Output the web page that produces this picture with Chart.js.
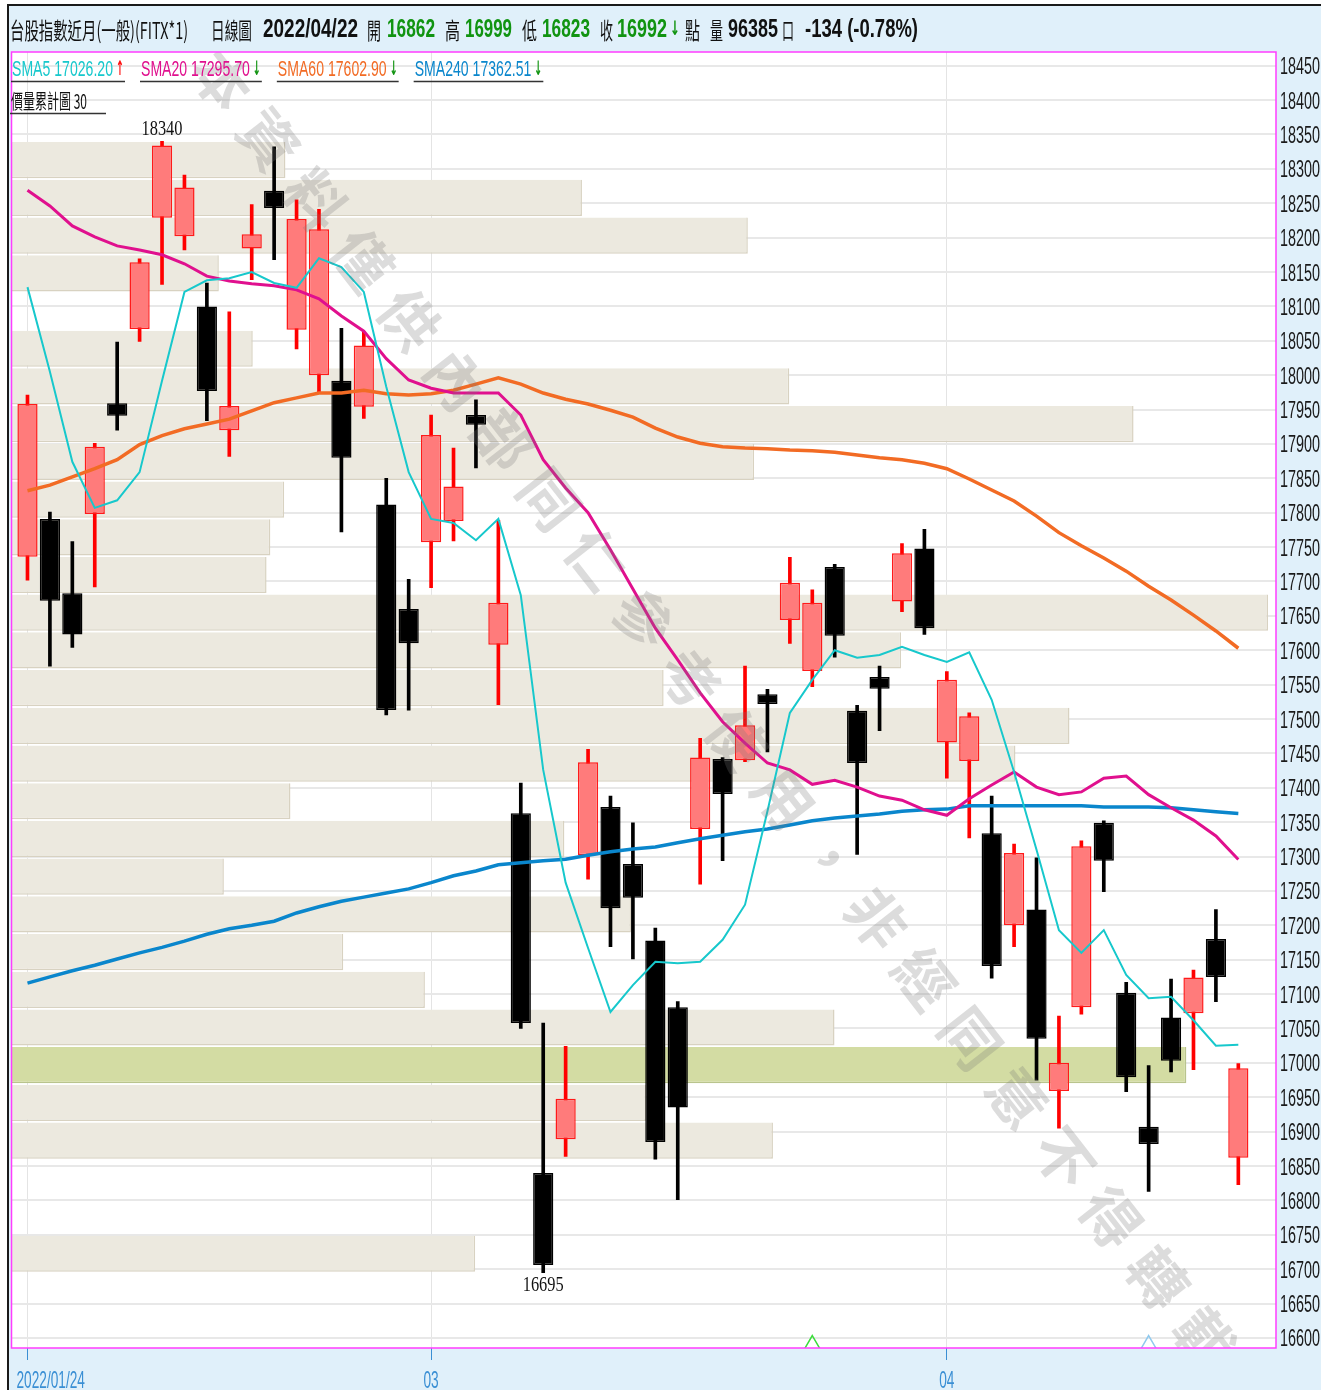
<!DOCTYPE html>
<html>
<head>
<meta charset="utf-8">
<script src="https://cdn.jsdelivr.net/npm/chart.js@4.4.0/dist/chart.umd.min.js"></script>
<style>
  html, body { margin: 0; padding: 0; background: #fff; }
  canvas { display: block; }
</style>
</head>
<body>
<canvas id="chart" width="1321" height="1390"></canvas>
<script>
// ---- data ----
const dates = [
  '2022/01/24','2022/01/25','2022/01/26',
  '2022/02/07','2022/02/08','2022/02/09','2022/02/10','2022/02/11',
  '2022/02/14','2022/02/15','2022/02/16','2022/02/17','2022/02/18',
  '2022/02/21','2022/02/22','2022/02/23','2022/02/24','2022/02/25',
  '2022/03/01','2022/03/02','2022/03/03','2022/03/04',
  '2022/03/07','2022/03/08','2022/03/09','2022/03/10','2022/03/11',
  '2022/03/14','2022/03/15','2022/03/16','2022/03/17','2022/03/18',
  '2022/03/21','2022/03/22','2022/03/23','2022/03/24','2022/03/25',
  '2022/03/28','2022/03/29','2022/03/30','2022/03/31',
  '2022/04/01','2022/04/06','2022/04/07','2022/04/08',
  '2022/04/11','2022/04/12','2022/04/13','2022/04/14','2022/04/15',
  '2022/04/18','2022/04/19','2022/04/20','2022/04/21','2022/04/22'
];
const openP  = [17736,17791,17683,17798,17959,18067,18229,18202,18100,17920,18184,18268,18066,18000,17992,17954,17812,17660,17757,17788,17942,17608,17363,16840,16889,17302,17372,17289,17178,17081,17340,17442,17440,17536,17644,17570,17721,17512,17561,17671,17748,17466,17439,17334,17200,17223,16959,17081,17349,17102,16907,17066,17072,17180,16862];
const highP  = [17971,17801,17758,17901,18048,18169,18340,18291,18134,18092,18248,18332,18255,18241,18068,18063,17850,17703,17942,17894,17964,17789,17407,17058,17024,17456,17388,17349,17196,17089,17472,17444,17577,17543,17735,17688,17725,17520,17577,17755,17776,17569,17509,17388,17318,17298,17068,17323,17352,17117,16996,17122,17135,17223,16999];
const lowP   = [17702,17577,17604,17692,17920,18049,18132,18182,17934,17882,18139,18168,18038,17976,17772,17937,17506,17513,17691,17759,17865,17521,17050,16695,16864,17267,17169,17151,16860,16801,17260,17294,17438,17452,17610,17547,17590,17303,17483,17656,17623,17414,17327,17123,17169,16975,16905,17071,17249,16958,16813,16987,16990,17089,16823];
const closeP = [17958,17672,17623,17896,17941,18164,18334,18273,17977,17955,18205,18243,18227,18212,17880,18043,17513,17610,17913,17838,17928,17669,17058,16706,16948,17437,17225,17240,16885,16935,17444,17391,17491,17522,17698,17669,17621,17436,17544,17741,17632,17557,17504,17141,17305,17035,17000,17315,17294,16979,16882,17003,17124,17125,16992];

const sma5   = [18128,18005,17874,17807,17818,17859,17992,18121,18138,18141,18150,18134,18127,18170,18157,18121,17983,17859,17791,17785,17760,17791,17680,17426,17262,17167,17074,17113,17147,17145,17147,17179,17230,17366,17509,17557,17600,17589,17593,17605,17593,17583,17597,17528,17423,17310,17193,17160,17193,17128,17094,17096,17062,17025,17026.20];
const sma20  = [18269,18246,18217,18201,18188,18182,18175,18162,18144,18137,18133,18130,18124,18111,18086,18064,18024,17993,17981,17974,17974,17974,17942,17877,17836,17800,17746,17689,17632,17586,17538,17496,17465,17436,17426,17405,17411,17401,17388,17382,17368,17360,17384,17404,17423,17401,17390,17394,17414,17417,17390,17371,17353,17330,17295.70];
const sma60  = [17832,17840,17852,17864,17877,17899,17912,17922,17929,17936,17948,17960,17967,17974,17974,17978,17973,17971,17973,17978,17987,17996,17987,17974,17965,17958,17949,17939,17923,17910,17901,17896,17894,17893,17891,17890,17888,17884,17880,17877,17872,17864,17849,17833,17817,17795,17771,17752,17734,17715,17693,17673,17651,17628,17602.90];
const sma240 = [17116,17125,17134,17142,17151,17160,17168,17177,17187,17195,17200,17206,17218,17227,17235,17241,17247,17253,17262,17272,17279,17288,17291,17294,17296,17302,17307,17311,17314,17320,17326,17331,17336,17340,17346,17352,17356,17359,17362,17366,17368,17369,17374,17374,17374,17374,17374,17374,17372,17372,17372,17371,17368,17365,17362.51];

// 價量累計圖 30: relative volume per price bin, lowest bin first
const profileLow = 16695, profileHigh = 18340;
const profileVol = [36.9,0,0,60.6,50.5,93.5,65.5,32.9,26.4,49.3,16.9,44.0,22.2,79.9,84.2,51.9,70.8,100,20.3,20.6,21.7,59.1,89.3,61.9,19.2,0,16.5,58.6,45.4,21.8];

const xTickIndex  = [0, 18, 41];
const xTickLabels = ['2022/01/24', '03', '04'];

// small signal marks along the bottom
const signalIndex  = [35, 50];
const signalColors = ['#3ddc3d', '#8fc9ee'];
const signalLevel  = 16589;

const lastVolume = 96385;
const lastChange = '-134 (-0.78%)';

// ---- derived ----
const last = closeP.length - 1;
const binSize = (profileHigh - profileLow) / profileVol.length;
const binCenters = profileVol.map((v, k) => profileLow + (k + 0.5) * binSize);
const hotBin = Math.floor((closeP[last] - profileLow) / binSize);
const isUp = i => closeP[i] >= openP[i];

const Y_MIN = 16585.4, Y_MAX = 18469.9;
const SANS = '"Liberation Sans", Arial, sans-serif';
const CJK = '"Noto Sans CJK TC", "Noto Sans CJK SC", sans-serif';

const maSeries = [
  {name: 'SMA5',   data: sma5,   color: '#17c8cc', width: 2},
  {name: 'SMA20',  data: sma20,  color: '#e0108e', width: 3},
  {name: 'SMA60',  data: sma60,  color: '#f26b24', width: 3.5},
  {name: 'SMA240', data: sma240, color: '#0a86cc', width: 3.5},
];

function fitText(ctx, text, x, y, w, font, color) {
  ctx.save();
  ctx.font = font;
  ctx.fillStyle = color;
  ctx.textBaseline = 'middle';
  ctx.textAlign = 'left';
  const m = ctx.measureText(text).width;
  ctx.translate(x, y);
  ctx.scale(w / m, 1);
  ctx.fillText(text, 0, 0);
  ctx.restore();
}

function squeezeText(ctx, text, x, y, sx, font, color, align, baseline) {
  ctx.save();
  ctx.font = font;
  ctx.fillStyle = color;
  ctx.textBaseline = baseline || 'middle';
  ctx.textAlign = align || 'left';
  const w = ctx.measureText(text).width * sx;
  ctx.translate(x, y);
  ctx.scale(sx, 1);
  ctx.fillText(text, 0, 0);
  ctx.restore();
  return w;
}

function textWidth(ctx, text, font) {
  ctx.save();
  ctx.font = font;
  const w = ctx.measureText(text).width;
  ctx.restore();
  return w;
}

const decor = {
  id: 'decor',
  beforeDraw(chart) {
    const {ctx, chartArea: a, width, height} = chart;
    ctx.save();
    ctx.fillStyle = '#ffffff';
    ctx.fillRect(0, 0, width, height);
    ctx.fillStyle = '#e0f0fa';
    ctx.fillRect(9, 6, width - 9, height - 6);
    ctx.fillStyle = '#ffffff';
    ctx.fillRect(a.left, a.top, a.right - a.left, a.bottom - a.top);
    ctx.strokeStyle = '#1a1a1a';
    ctx.lineWidth = 2;
    ctx.beginPath();
    ctx.moveTo(8, height);
    ctx.lineTo(8, 5);
    ctx.lineTo(width, 5);
    ctx.stroke();
    ctx.restore();
  },
  afterDatasetsDraw(chart) {
    const {ctx, chartArea: a} = chart;
    const xs = chart.scales.x, ys = chart.scales.y;

    // watermark
    const wm = '本資料僅供內部同仁參考使用，非經同意不得轉載';
    const ang = 52 * Math.PI / 180;
    ctx.save();
    ctx.beginPath();
    ctx.rect(a.left, a.top, a.right - a.left, a.bottom - a.top);
    ctx.clip();
    ctx.font = 'bold 58px ' + CJK;
    ctx.fillStyle = 'rgba(120,120,120,0.26)';
    ctx.textAlign = 'center';
    ctx.textBaseline = 'middle';
    [...wm].forEach((ch, k) => {
      ctx.save();
      ctx.translate(222 + k * 76 * Math.cos(ang), 80 + k * 76 * Math.sin(ang));
      ctx.rotate(ang);
      ctx.fillText(ch, 0, 0);
      ctx.restore();
    });
    ctx.restore();

    // highest high / lowest low labels
    const hi = Math.max(...highP), lo = Math.min(...lowP);
    const iHi = highP.indexOf(hi), iLo = lowP.indexOf(lo);
    const serif = '21px "Liberation Serif", "DejaVu Serif", serif';
    squeezeText(ctx, String(hi), xs.getPixelForValue(iHi), ys.getPixelForValue(hi) - 12, 0.78, serif, '#111', 'center');
    squeezeText(ctx, String(lo), xs.getPixelForValue(iLo), ys.getPixelForValue(lo) + 13, 0.78, serif, '#111', 'center');

    // plot frame
    ctx.save();
    ctx.strokeStyle = '#ff3cff';
    ctx.lineWidth = 1.5;
    ctx.strokeRect(a.left, a.top, a.right - a.left, a.bottom - a.top);
    ctx.restore();
  },
  afterDraw(chart) {
    const {ctx, chartArea: a} = chart;
    const xs = chart.scales.x, ys = chart.scales.y;
    const green = '#119411', ink = '#111111';

    // price axis labels (narrow face, like the original)
    const axFont = '24px ' + SANS;
    ys.ticks.forEach(t => {
      squeezeText(ctx, String(t.value), a.right + 4, ys.getPixelForValue(t.value) + 8.5, 0.6, axFont, '#1a1a1a', 'left', 'alphabetic');
    });
    // date axis labels
    xTickIndex.forEach((idx, k) => {
      const w = textWidth(ctx, xTickLabels[k], axFont) * 0.57;
      const x0 = Math.max(xs.getPixelForValue(idx) - w / 2, a.left + 5);
      squeezeText(ctx, xTickLabels[k], x0, a.bottom + 40, 0.57, axFont, '#3a8fd4', 'left', 'alphabetic');
    });

    // header
    const cjk = '23px ' + CJK;
    const num = 'bold 25px ' + SANS;
    const arrow = 'bold 20px "DejaVu Sans", sans-serif';
    const head = [
      ['台股指數近月(一般)(FITX*1)', 10, 178, ink, cjk],
      ['日線圖', 211, 41, ink, cjk],
      [dates[last], 263, 95, ink, num],
      ['開', 367, 14, ink, cjk], [String(openP[last]), 387, 48, green, num],
      ['高', 445, 15, ink, cjk], [String(highP[last]), 465, 47, green, num],
      ['低', 522, 15, ink, cjk], [String(lowP[last]), 542, 48, green, num],
      ['收', 600, 13, ink, cjk], [String(closeP[last]), 617, 50, green, num],
      ['↓', 670, 10, green, arrow],
      ['點', 685, 15, ink, cjk],
      ['量', 710, 13, ink, cjk], [String(lastVolume), 728, 50, ink, num],
      ['口', 782, 12, ink, cjk],
      [lastChange, 805, 113, ink, num],
    ];
    head.forEach(([t, x, w, c, f]) => fitText(ctx, t, x, 30, w, f, c));

    // moving-average legend
    const legFont = '22px ' + SANS;
    const legSx = 101 / textWidth(ctx, 'SMA5 17026.20', legFont);
    let x = 12;
    ctx.save();
    ctx.strokeStyle = '#333';
    ctx.lineWidth = 1.5;
    maSeries.forEach(s => {
      const v = s.data[last], prev = s.data[last - 1];
      const w = squeezeText(ctx, s.name + ' ' + v.toFixed(2), x, 70, legSx, legFont, s.color);
      const up = v >= prev;
      fitText(ctx, up ? '↑' : '↓', x + w + 3, 70, 8, arrow, up ? '#ff1010' : green);
      ctx.beginPath();
      ctx.moveTo(x - 1, 81.5);
      ctx.lineTo(x + w + 12, 81.5);
      ctx.stroke();
      x += w + 12 + 16;
    });
    fitText(ctx, '價量累計圖 30', 11, 101, 76, '20px ' + CJK, ink);
    ctx.beginPath();
    ctx.moveTo(10, 113.5);
    ctx.lineTo(106, 113.5);
    ctx.stroke();
    ctx.restore();
  }
};

const xy = arr => arr.map((v, i) => ({x: i, y: v}));

const datasets = maSeries.map((s, k) => ({
  type: 'line',
  label: s.name,
  data: xy(s.data),
  xAxisID: 'x', yAxisID: 'y',
  borderColor: s.color,
  borderWidth: s.width,
  pointRadius: 0,
  tension: 0,
  order: k * 0.1,
}));

datasets.push({
  type: 'line',
  label: 'signal',
  data: signalIndex.map(i => ({x: i, y: signalLevel})),
  xAxisID: 'x', yAxisID: 'y',
  showLine: false,
  pointStyle: 'triangle',
  pointRadius: 10,
  pointBorderWidth: 1.5,
  pointBorderColor: signalColors,
  pointBackgroundColor: 'rgba(0,0,0,0)',
  order: 1,
});

datasets.push({
  type: 'bar',
  label: 'body',
  data: openP.map((o, i) => ({x: i, y: [o, closeP[i]]})),
  xAxisID: 'x', yAxisID: 'y',
  backgroundColor: c => isUp(c.dataIndex) ? '#ff7b7b' : '#000000',
  borderColor: c => isUp(c.dataIndex) ? '#ff1a1a' : '#000000',
  borderWidth: 1.5,
  borderSkipped: false,
  grouped: false,
  barPercentage: 0.9,
  categoryPercentage: 1,
  minBarLength: 2,
  order: 2,
});

datasets.push({
  type: 'bar',
  label: 'wick',
  data: lowP.map((l, i) => ({x: i, y: [l, highP[i]]})),
  xAxisID: 'x', yAxisID: 'y',
  backgroundColor: c => isUp(c.dataIndex) ? '#ff0000' : '#000000',
  borderWidth: 0,
  grouped: false,
  barThickness: 3,
  order: 3,
});

datasets.push({
  type: 'bar',
  label: 'profile',
  indexAxis: 'y',
  xAxisID: 'xv', yAxisID: 'yp',
  data: profileVol.map((v, k) => ({x: v > 0 ? v : null, y: binCenters[k]})),
  backgroundColor: c => c.dataIndex === hotBin ? '#d3dca3' : '#ece9df',
  borderColor: c => c.dataIndex === hotBin ? '#b9c48d' : '#d8d2c1',
  borderWidth: {top: 0, left: 0, right: 1.5, bottom: 1.5},
  borderSkipped: false,
  grouped: false,
  barPercentage: 0.96,
  categoryPercentage: 1,
  order: 10,
});

new Chart(document.getElementById('chart'), {
  data: {datasets},
  options: {
    responsive: false,
    devicePixelRatio: 1,
    animation: false,
    events: [],
    layout: {padding: {left: 10, top: 52, right: 0, bottom: 0}},
    plugins: {
      legend: {display: false},
      tooltip: {enabled: false},
    },
    scales: {
      x: {
        type: 'linear',
        position: 'bottom',
        offset: false,
        min: -0.713,
        max: 55.68,
        afterBuildTicks: s => { s.ticks = xTickIndex.map(v => ({value: v})); },
        afterFit: s => { s.height = 42; s.paddingLeft = 0; s.paddingRight = 0; },
        ticks: {display: false, autoSkip: false},
        grid: {
          offset: false,
          color: '#e4e4e4',
          tickColor: '#3a8fd4',
          lineWidth: 1,
          tickLength: 12,
          tickWidth: 1,
        },
        border: {display: false},
      },
      y: {
        type: 'linear',
        position: 'right',
        offset: false,
        min: Y_MIN,
        max: Y_MAX,
        afterFit: s => { s.width = 45; s.paddingTop = 0; s.paddingBottom = 0; },
        ticks: {
          display: false,
          stepSize: 50,
          includeBounds: false,
          maxTicksLimit: 100,
          autoSkip: false,
        },
        grid: {offset: false, color: '#e8e8e8', lineWidth: 2, drawTicks: false},
        border: {display: false},
      },
      xv: {type: 'linear', position: 'top', display: false, offset: false, min: 0, max: 100 * 1266 / 1258},
      yp: {
        type: 'linear', position: 'left', display: false, offset: false, min: Y_MIN, max: Y_MAX,
        grid: {offset: false},
        afterBuildTicks: s => { s.ticks = []; },
      },
    },
  },
  plugins: [decor],
});
</script>
</body>
</html>
